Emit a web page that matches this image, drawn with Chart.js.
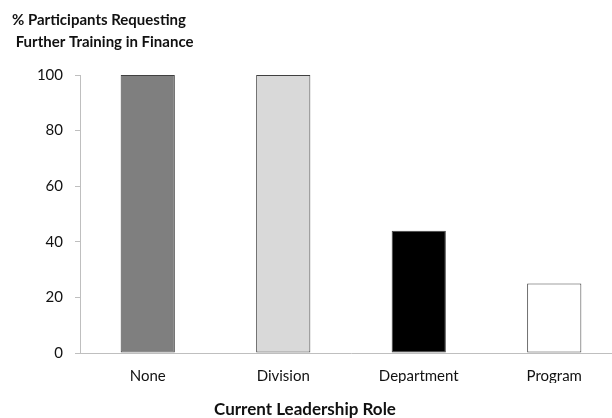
<!DOCTYPE html>
<html>
<head>
<meta charset="utf-8">
<script src="https://cdn.jsdelivr.net/npm/chart.js@4"></script>
<style>
  html, body { margin: 0; padding: 0; background: #fff; overflow: hidden; }
  #wrap { width: 622px; height: 418px; }
</style>
</head>
<body>
<div id="wrap"><canvas id="c" width="622" height="418"></canvas></div>
<script>
const categories = ["None", "Division", "Department", "Program"];
const values = [100, 100, 44, 25];
const barColors = ["#7f7f7f", "#d9d9d9", "#000000", "#ffffff"];
const yTicks = [0, 20, 40, 60, 80, 100];
const titleLines = ["% Participants Requesting", " Further Training in Finance"];
const xTitle = "Current Leadership Role";

const FONT = "Lato, 'Open Sans', sans-serif";
const TEXT = "#111111";
const AXIS = "#bfbfbf";

const titlesPlugin = {
  id: "titles",
  afterDraw(chart) {
    const ctx = chart.ctx;
    ctx.save();
    ctx.fillStyle = TEXT;
    ctx.textBaseline = "middle";
    ctx.font = "bold 15px " + FONT;
    ctx.textAlign = "left";
    ctx.fillText(titleLines[0], 12, 20);
    ctx.fillText(titleLines[1], 12, 42);
    ctx.font = "bold 17px " + FONT;
    ctx.textAlign = "center";
    ctx.fillText(xTitle, 305, 410);
    ctx.restore();
  }
};

new Chart(document.getElementById("c"), {
  type: "bar",
  data: {
    labels: categories,
    datasets: [{
      data: values,
      backgroundColor: barColors,
      borderColor: "#404040",
      borderWidth: 1,
      borderSkipped: false,
      barPercentage: 0.4,
      categoryPercentage: 1
    }]
  },
  plugins: [titlesPlugin],
  options: {
    responsive: false,
    animation: false,
    devicePixelRatio: 1,
    layout: { padding: { top: 75, bottom: 35, left: 0, right: 0 } },
    plugins: { legend: { display: false }, tooltip: { enabled: false }, title: { display: false } },
    scales: {
      x: {
        grid: { display: true, drawOnChartArea: false, drawTicks: false },
        border: { display: true, color: AXIS, width: 1 },
        ticks: { color: TEXT, font: { family: FONT, size: 15 }, padding: 14 },
        afterFit(s) { s.height = 30; }
      },
      y: {
        min: 0, max: 100,
        afterBuildTicks(s) { s.ticks = yTicks.map(v => ({ value: v })); },
        grid: { display: true, drawOnChartArea: false, drawTicks: true, tickLength: 5, color: AXIS },
        border: { display: true, color: AXIS, width: 1 },
        ticks: { color: TEXT, font: { family: FONT, size: 15 }, padding: 12 },
        afterFit(s) { s.width = 80; }
      }
    }
  }
});
</script>
</body>
</html>
